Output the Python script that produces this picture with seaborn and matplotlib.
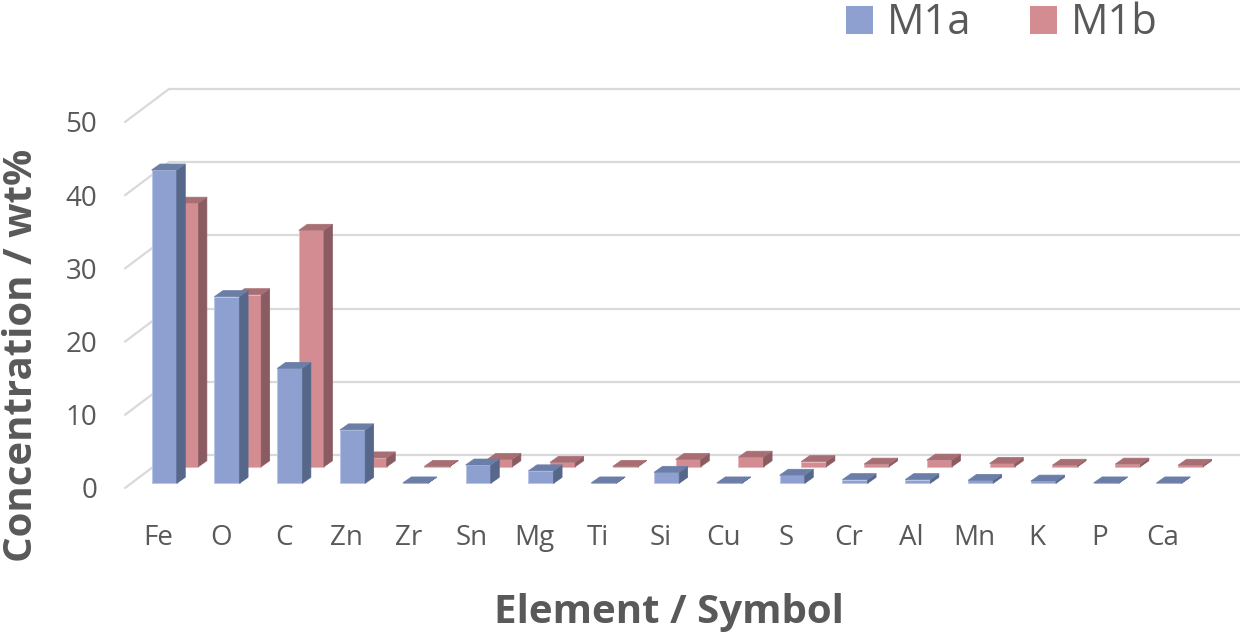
import numpy as np
import pandas as pd
import seaborn as sns
import matplotlib.pyplot as plt
from matplotlib.patches import Polygon, Patch

# Element composition (wt%) of the two samples
elements = ["Fe", "O", "C", "Zn", "Zr", "Sn", "Mg", "Ti", "Si", "Cu",
            "S", "Cr", "Al", "Mn", "K", "P", "Ca"]
m1a = [42.8, 25.5, 15.7, 7.3, 0.05, 2.5, 1.7, 0.05, 1.5, 0.05,
       1.1, 0.5, 0.5, 0.4, 0.3, 0.05, 0.05]
m1b = [36.0, 23.5, 32.3, 1.2, 0.05, 1.0, 0.6, 0.05, 1.0, 1.3,
       0.7, 0.35, 0.9, 0.45, 0.2, 0.35, 0.2]
series = ["M1a", "M1b"]
y_ticks = [0, 10, 20, 30, 40, 50]

df = pd.DataFrame({
    "Element": elements * 2,
    "Concentration": m1a + m1b,
    "Sample": ["M1a"] * len(elements) + ["M1b"] * len(elements),
})

# face colours: front, side, top, edge
faces = {
    "M1a": ("#8DA0D0", "#56678A", "#6B7EA8", "#B9C6E8"),
    "M1b": ("#D48C93", "#8A5B60", "#A76F74", "#E8B8BC"),
}
grey = "#595959"

sns.set_theme(style="white")
plt.rcParams["font.family"] = ["Open Sans", "DejaVu Sans"]

W, H = 1242, 640
fig = plt.figure(figsize=(W / 100, H / 100), dpi=100)
ax_left, ax_bottom, ax_w, ax_h = 125, 488, 1071, 366
ax = fig.add_axes([ax_left / W, 1 - ax_bottom / H, ax_w / W, ax_h / H])

sns.barplot(data=df, x="Element", y="Concentration", hue="Sample",
            order=elements, hue_order=["M1b", "M1a"],
            palette={k: v[0] for k, v in faces.items()},
            width=0.4, dodge=False, errorbar=None, saturation=1,
            legend=False, ax=ax)

xlim = (-0.524, 16.53)
ax.set_xlim(*xlim)
ax.set_ylim(0, 50)

# pixel -> data conversion (fixed limits)
px_x = (xlim[1] - xlim[0]) / ax_w
px_y = 50 / ax_h

# depth offsets in pixels (right, up)
row_off = {"M1a": (6.3, 4.7), "M1b": (27.9, 21.3)}
back_off = (44.0, 33.0)
bar_depth = (8.5, 6.0)

# back wall and side wall gridlines
bx, by = back_off[0] * px_x, back_off[1] * px_y
for v in y_ticks:
    ax.plot([xlim[0] + bx, xlim[1] + bx], [v + by, v + by], color="#D9D9D9",
            lw=1.6, zorder=0.5, clip_on=False, solid_capstyle="butt")
    ax.plot([xlim[0], xlim[0] + bx], [v, v + by], color="#D9D9D9",
            lw=1.6, zorder=0.5, clip_on=False)

ddx, ddy = bar_depth[0] * px_x, bar_depth[1] * px_y
for name, cont in zip(["M1b", "M1a"], ax.containers):
    front, side, top, edge = faces[name]
    ox, oy = row_off[name][0] * px_x, row_off[name][1] * px_y
    z = 2 if name == "M1b" else 3
    for bar in cont:
        x0 = bar.get_x() + ox
        w = bar.get_width()
        h = bar.get_height()
        b = oy
        t = b + h
        x1 = x0 + w
        bar.set_xy((x0, b))
        bar.set_clip_on(False)
        bar.set_zorder(z)
        bar.set_edgecolor(edge)
        bar.set_linewidth(0.7)
        side_poly = Polygon([(x1, b), (x1 + ddx, b + ddy), (x1 + ddx, t + ddy), (x1, t)],
                            closed=True, facecolor=side, edgecolor=side, lw=0.5,
                            zorder=z, clip_on=False)
        top_poly = Polygon([(x0, t), (x1, t), (x1 + ddx, t + ddy), (x0 + ddx, t + ddy)],
                           closed=True, facecolor=top, edgecolor=top, lw=0.5,
                           zorder=z, clip_on=False)
        ax.add_patch(side_poly)
        ax.add_patch(top_poly)

for s in ax.spines.values():
    s.set_visible(False)
ax.set_yticks(y_ticks)
ax.tick_params(axis="y", length=0, pad=20, labelsize=20, labelcolor=grey)
ax.tick_params(axis="x", length=0, pad=26, labelsize=20, labelcolor=grey)
ax.grid(False)

ax.set_xlabel("Element / Symbol", fontsize=29, fontweight="bold", color=grey, va="center")
ax.xaxis.set_label_coords((669 - ax_left) / ax_w, (ax_bottom - 612) / ax_h)
ax.set_ylabel("Concentration / wt%", fontsize=29, fontweight="bold", color=grey, va="center")
ax.yaxis.set_label_coords((22 - ax_left) / ax_w, (ax_bottom - 355) / ax_h)

handles = [Patch(facecolor=faces[s][0], edgecolor="none") for s in series]
fig.legend(handles, series, loc="center left", bbox_to_anchor=(846 / W, 1 - 23.5 / H),
           ncol=2, frameon=False, fontsize=30, labelcolor=grey,
           handlelength=0.65, handleheight=0.65, handletextpad=0.33,
           columnspacing=1.4, borderpad=0, borderaxespad=0)

fig.savefig("out.png", dpi=100)
